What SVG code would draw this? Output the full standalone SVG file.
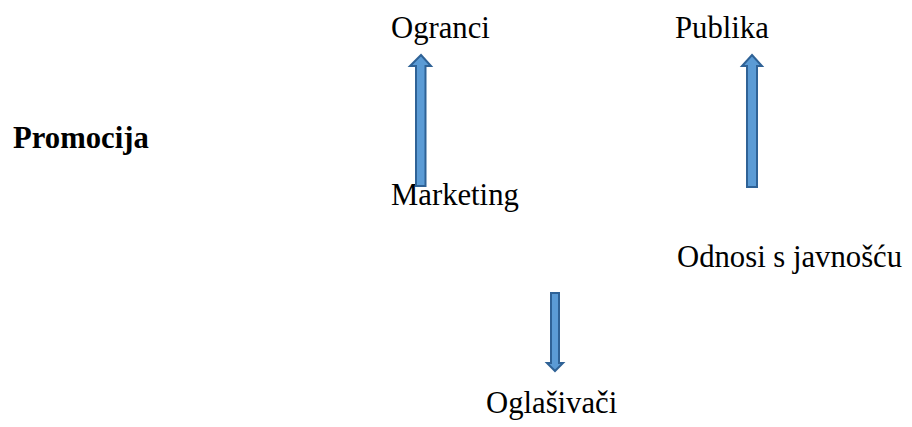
<svg xmlns="http://www.w3.org/2000/svg" width="912" height="427" viewBox="0 0 912 427">
  <style>
    .arrow { fill: #5b9bd5; stroke: #2f6296; stroke-width: 2; stroke-linejoin: miter; }
  </style>
  <rect width="912" height="427" fill="#fff"/>

  <g font-family="Liberation Serif, serif" font-size="30.7" fill="#000">
    <g id="promocija"><text x="13" y="148" font-weight="bold">Promocija</text></g>
    <g id="ogranci"><text x="391" y="38">Ogranci</text></g>
    <g id="publika"><text x="675" y="38">Publika</text></g>
    <g id="marketing"><text x="391" y="205">Marketing</text></g>
    <g id="odnosi"><text x="677" y="267">Odnosi s javnošću</text></g>
    <g id="oglasivaci"><text x="486" y="413">Oglašivači</text></g>
  </g>

  <g id="connectors">
    <!-- block arrow: Marketing up to Ogranci -->
    <polygon class="arrow" points="421,55 431,66 425.5,66 425.5,186 416,186 416,66 410,66"/>
    <!-- block arrow: up to Publika -->
    <polygon class="arrow" points="752,55 762,66 757,66 757,187 747,187 747,66 742,66"/>
    <!-- block arrow: down to Oglašivači -->
    <polygon class="arrow" points="551,293 559,293 559,363 563,363 555,371 547,363 551,363"/>
  </g>
</svg>
